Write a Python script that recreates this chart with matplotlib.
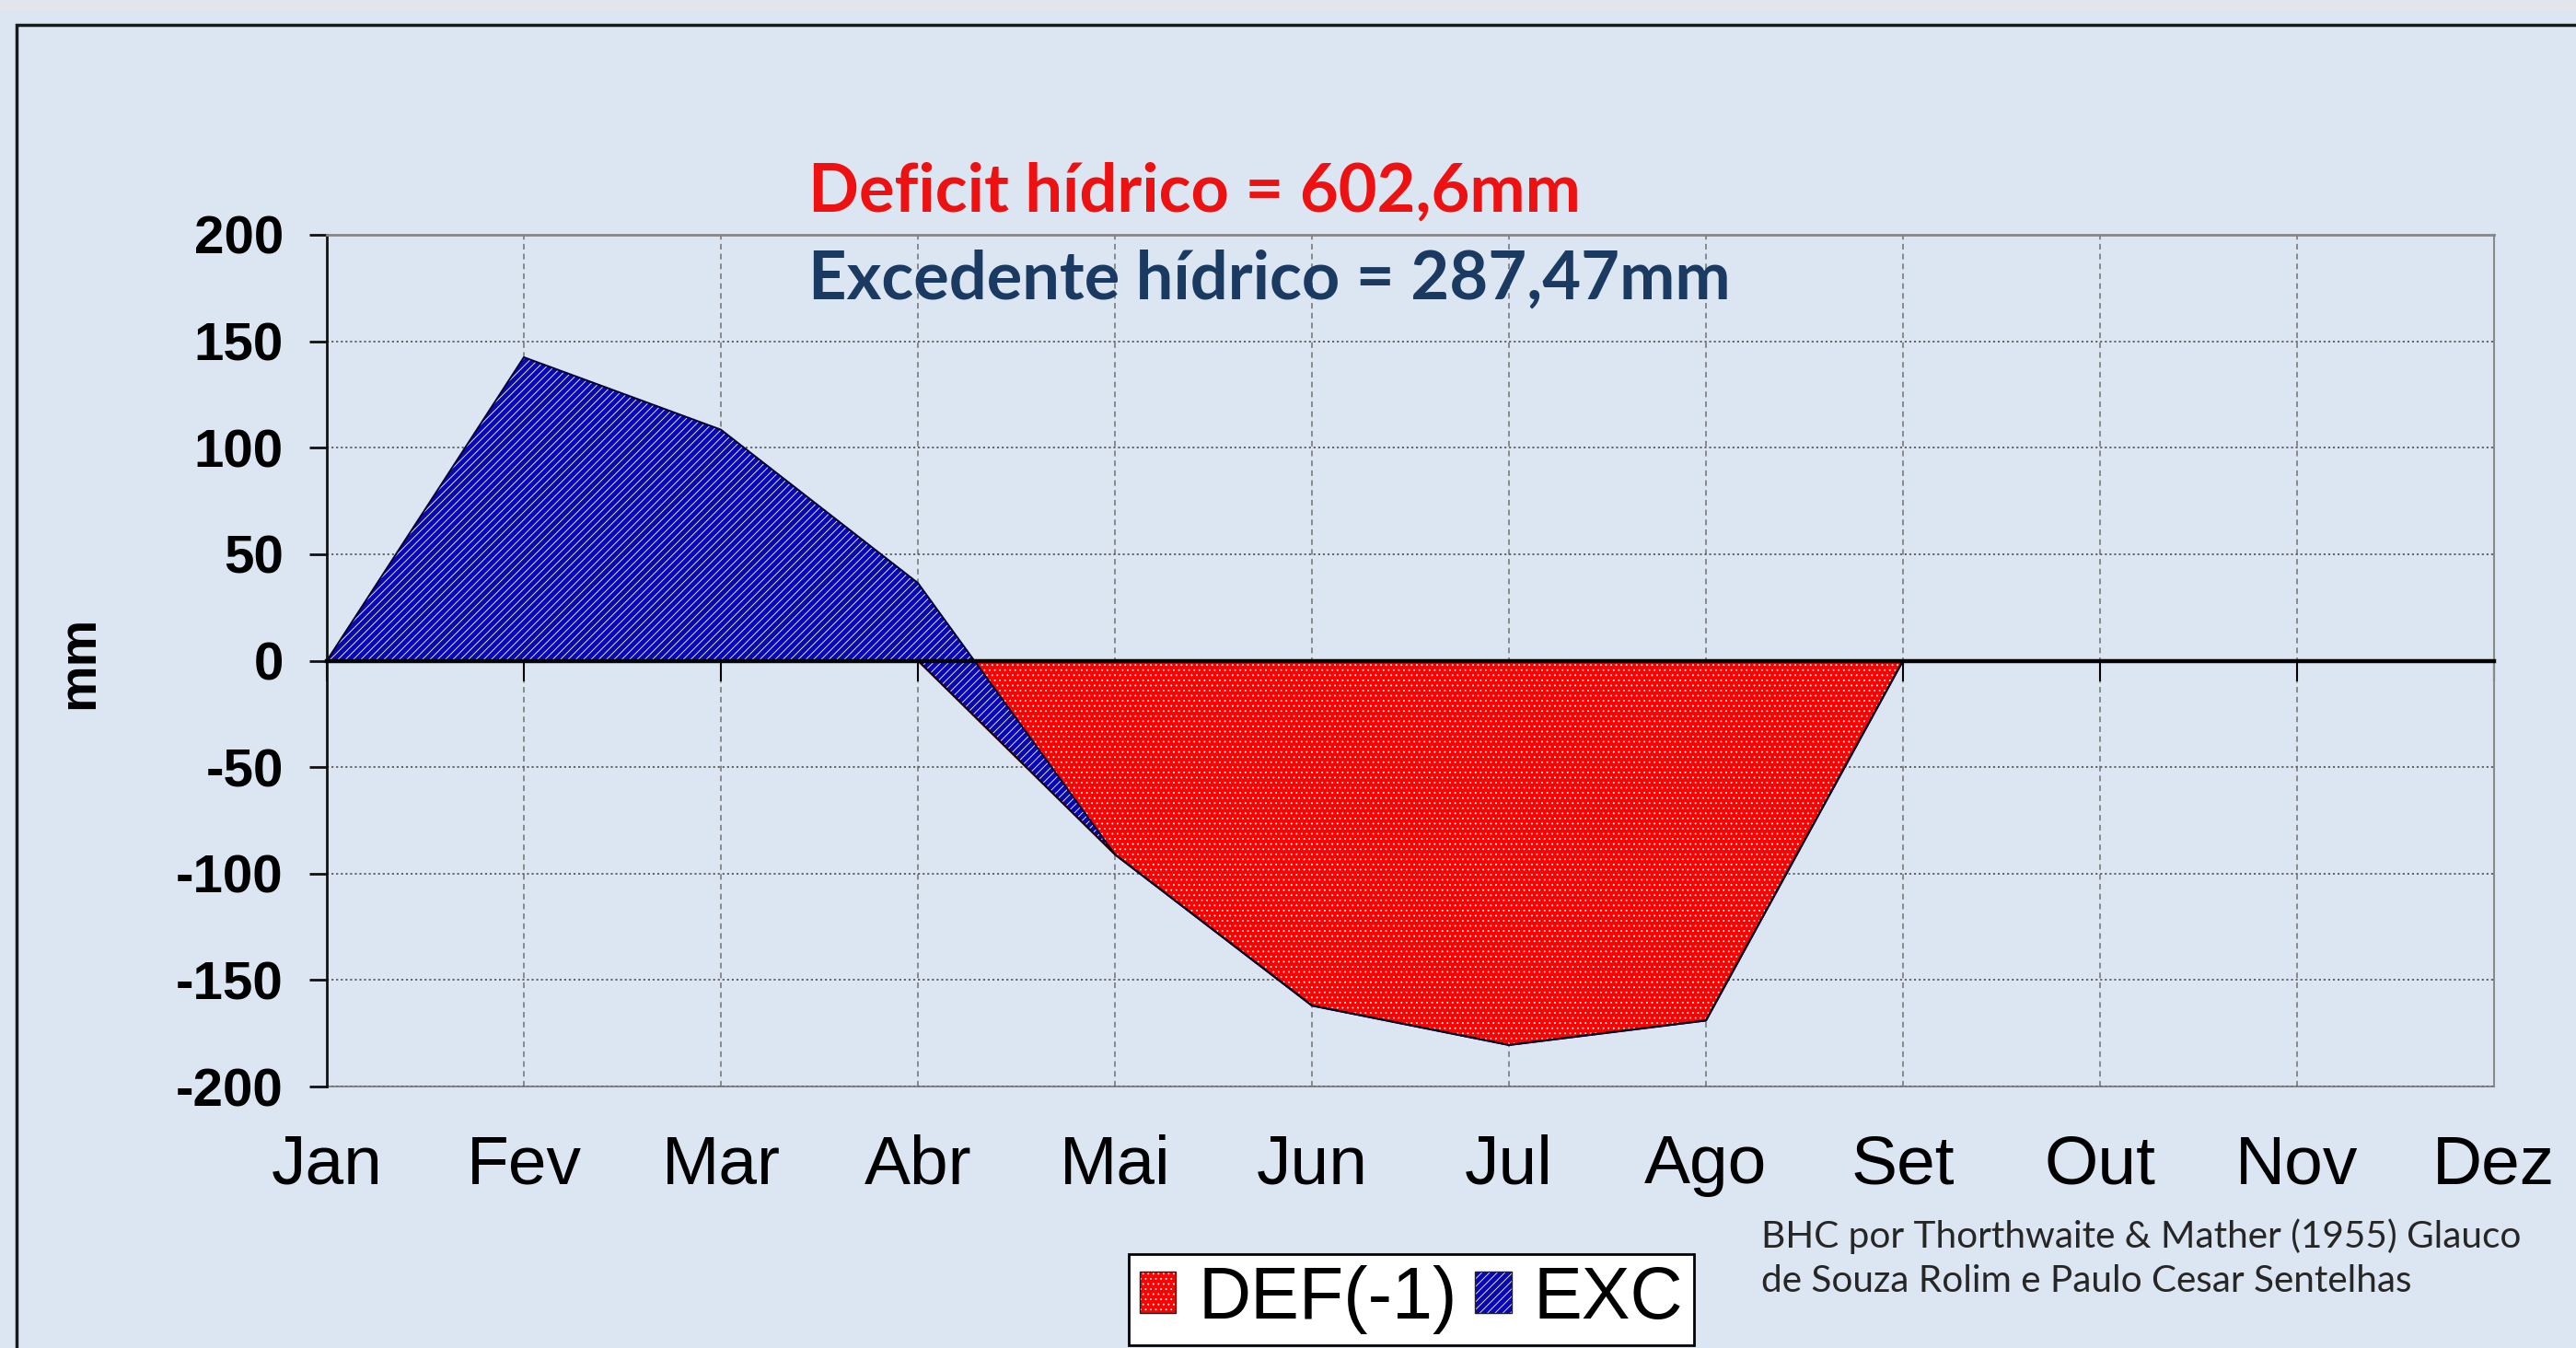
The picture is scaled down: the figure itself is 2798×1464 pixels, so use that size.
import matplotlib
matplotlib.use("Agg")
import matplotlib.pyplot as plt
from matplotlib.patches import Patch, Rectangle
import numpy as np

plt.rcParams['font.family'] = ['Liberation Sans', 'DejaVu Sans']
plt.rcParams['hatch.color'] = 'white'
plt.rcParams['hatch.linewidth'] = 0.6

# ---- data ----
months = ['Jan', 'Fev', 'Mar', 'Abr', 'Mai', 'Jun', 'Jul', 'Ago', 'Set', 'Out', 'Nov', 'Dez']
deficit = [0, 0, 0, 0, -91, -162, -180.5, -169, 0, 0, 0, 0]      # DEF(-1)
excedente = [0, 142.5, 108.5, 36.5, 0, 0, 0, 0, 0, 0, 0, 0]        # EXC
yticks = [-200, -150, -100, -50, 0, 50, 100, 150, 200]
title_def = 'Deficit hídrico = 602,6mm'
title_exc = 'Excedente hídrico = 287,47mm'
credit = 'BHC por Thorthwaite & Mather (1955) Glauco\nde Souza Rolim e Paulo Cesar Sentelhas'

W, H = 2798, 1464
BG = '#dce6f2'
RED = '#ff0000'
BLUE = '#0808b4'

fig = plt.figure(figsize=(W / 100, H / 100), dpi=100, facecolor=BG)

# top light strip and outer frame
fig.patches.append(Rectangle((0, 1 - 12 / H), 1, 12 / H, transform=fig.transFigure,
                             facecolor='#e2e6ec', edgecolor='none', zorder=0))
fig.patches.append(Rectangle((18 / W, -0.05), 1.2, 1 - 27 / H + 0.05, transform=fig.transFigure,
                             facecolor='none', edgecolor='#1a1a1a', linewidth=2.5, zorder=1))

ax = fig.add_axes([355 / W, 1 - 1180 / H, (2709 - 355) / W, (1180 - 255) / H])
ax.set_facecolor('none')

x = np.arange(len(months))
d = np.array(deficit, dtype=float)
e = np.array(excedente, dtype=float)
top = d + e

# DEF area (drawn first)
ax.fill_between(x, 0, d, facecolor=RED, edgecolor='none', linewidth=0, zorder=1)
ax.fill_between(x, 0, d, facecolor='none', edgecolor='white', hatch='...', linewidth=0, zorder=1.1)
# EXC area stacked on DEF
ax.fill_between(x, d, top, facecolor=BLUE, edgecolor='none', linewidth=0, zorder=1.2)
ax.fill_between(x, d, top, facecolor='none', edgecolor='white', hatch='////', linewidth=0, zorder=1.3)
ax.plot(x, d, color='#200000', linewidth=1.6, zorder=1.5)
ax.plot(x, top, color='#000030', linewidth=1.4, zorder=1.6)

ax.set_xlim(0, len(months) - 1)
ax.set_ylim(-200, 200)

# grid
ax.set_axisbelow(True)
ax.set_yticks(yticks)
ax.set_xticks(x)
ax.yaxis.grid(True, color='#5a5a5a', linestyle=(0, (1.2, 1.6)), linewidth=1.3)
ax.xaxis.grid(True, color='#707070', linestyle=(0, (4, 3)), linewidth=1.1)

# spines
ax.spines['bottom'].set_position(('data', 0))
ax.spines['bottom'].set_color('black')
ax.spines['bottom'].set_linewidth(3.2)
ax.spines['left'].set_color('#111111')
ax.spines['left'].set_linewidth(2)
ax.spines['top'].set_color('#868686')
ax.spines['top'].set_linewidth(2)
ax.spines['right'].set_color('#8a8a8a')
ax.spines['right'].set_linewidth(1.5)

ax.tick_params(axis='x', direction='out', length=16, width=1.5, color='black', labelbottom=False)
ax.tick_params(axis='y', direction='out', length=14, width=2, color='#111111', pad=20,
               labelsize=42)
ax.set_yticklabels([str(v) for v in yticks], fontweight='bold')

sec = ax.secondary_xaxis(0)
sec.set_xticks(x, labels=months)
sec.tick_params(length=0, pad=37, labelsize=54)
sec.spines['bottom'].set_color('#8a8a8a')
sec.spines['bottom'].set_linewidth(1.5)

# y label
fig.text(86 / W, 1 - 719 / H, 'mm', rotation=90, fontsize=41, fontweight='bold',
         ha='center', va='center')

# headline texts
fig.text(878 / W, 1 - 230 / H, title_def, color='#ee1111', fontsize=52, fontweight='bold',
         family=['Lato', 'DejaVu Sans'], ha='left', va='baseline')
fig.text(878 / W, 1 - 325 / H, title_exc, color='#1b3a62', fontsize=52, fontweight='bold',
         family=['Lato', 'DejaVu Sans'], ha='left', va='baseline')

# credit (va='baseline' refers to the last line)
fig.text(1913 / W, 1 - 1403 / H, credit, color='#262626', fontsize=29.2,
         family=['Lato', 'DejaVu Sans'], ha='left', va='baseline', linespacing=1.38,
         multialignment='left')

# legend
h_def = (Patch(facecolor=RED, edgecolor='white', hatch='...', linewidth=0),
         Patch(facecolor='none', edgecolor='#222222', linewidth=1))
h_exc = (Patch(facecolor=BLUE, edgecolor='white', hatch='////', linewidth=0),
         Patch(facecolor='none', edgecolor='#222222', linewidth=1))
leg = fig.legend([h_def, h_exc], ['DEF(-1)', 'EXC'], ncol=2, loc='upper left',
                 bbox_to_anchor=(1226 / W, 1 - 1362 / H), fontsize=57, frameon=True,
                 fancybox=False, edgecolor='black', facecolor='white', framealpha=1,
                 handlelength=0.5, handleheight=0.5, handletextpad=0.3, columnspacing=0.25,
                 borderpad=0.15, borderaxespad=0)
leg.get_frame().set_linewidth(2)

fig.savefig('out.png', dpi=100, facecolor=BG)
